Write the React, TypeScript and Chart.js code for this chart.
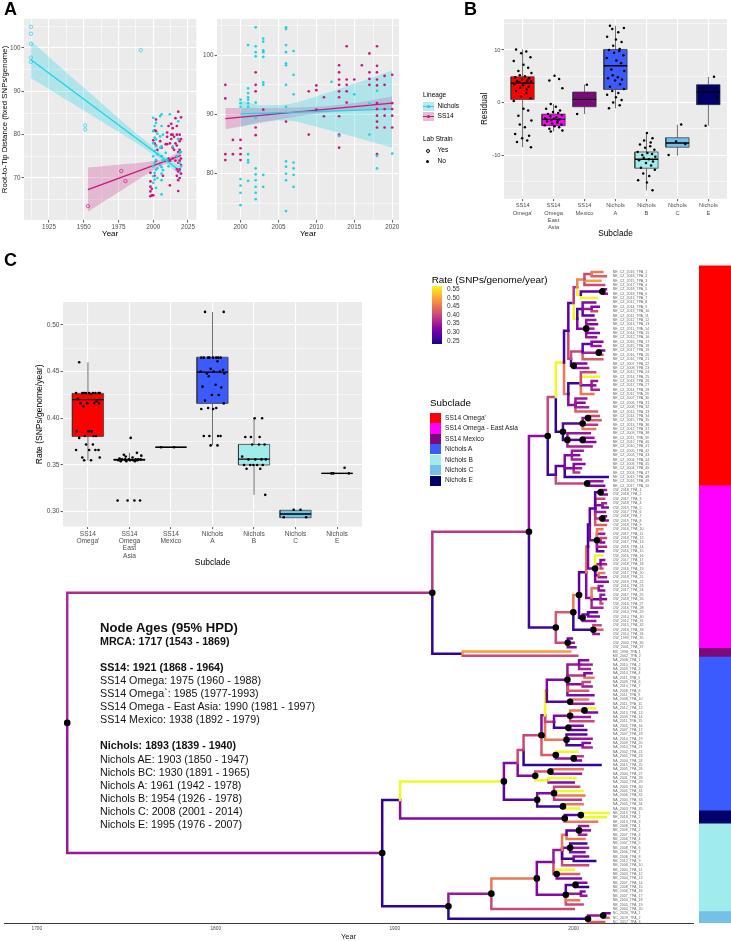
import React, { useEffect, useRef } from "react";
import { Chart, registerables } from "chart.js";
Chart.register(...registerables);

if (typeof document !== "undefined") document.body.style.margin = "0";

const FONT = "'Liberation Sans', Arial, Helvetica, sans-serif";
const NICHOLS = "#1dd3e6";
const SS14 = "#c8177f";

// ---------------- Panel A (root-to-tip) ----------------
const yearTicksA = [1925, 1950, 1975, 2000, 2025];
const yearMinorA = [1912.5, 1937.5, 1962.5, 1987.5, 2012.5];
const distTicksA = [70, 80, 90, 100];
const distMinorA = [65, 75, 85, 95, 105];

const nicholsLabA = [[1912, 104.9], [1912, 103.3], [1912, 101.0], [1912, 97.8], [1912, 96.8], [1951, 82.1], [1951, 81.2], [1991, 99.5]];
const ss14LabA = [[1953, 63.5], [1977, 71.6], [1980, 69.3]];
const nicholsFieldA = [[2000, 83.9], [2000, 80.8], [2000, 78.0], [2000, 75.0], [2000, 72.7], [2000, 70.4], [2000, 68.9], [2001, 82.0], [2001, 79.3], [2001, 76.2], [2001, 73.5], [2001, 71.2], [2001, 69.6], [2002, 82.7], [2002, 78.9], [2002, 77.3], [2002, 74.2], [2002, 71.9], [2002, 67.7], [2003, 80.2], [2003, 75.5], [2003, 72.2], [2003, 70.0], [2005, 84.3], [2005, 79.6], [2005, 77.0], [2005, 73.0], [2006, 84.7], [2006, 82.0], [2006, 77.3], [2006, 75.0], [2006, 72.5], [2006, 71.0], [2006, 69.5], [2006, 66.2], [2007, 80.0], [2007, 74.0], [2007, 71.8], [2009, 75.8], [2010, 74.2], [2011, 72.7], [2012, 84.7], [2014, 77.3], [2017, 75.0], [2018, 83.1], [2018, 78.9], [2019, 75.8], [2019, 73.5], [2020, 72.7], [2020, 76.0]];
const ss14FieldA = [[1998, 71.2], [1998, 69.2], [1998, 68.0], [1998, 66.9], [1998, 65.8], [1999, 67.5], [1999, 66.0], [2000, 78.7], [2000, 66.0], [2001, 81.0], [2001, 78.0], [2001, 70.5], [2002, 83.5], [2002, 80.8], [2002, 77.5], [2002, 74.0], [2003, 76.5], [2005, 78.5], [2006, 77.0], [2007, 70.5], [2009, 77.8], [2010, 77.8], [2010, 79.5], [2010, 80.5], [2011, 74.5], [2011, 82.0], [2012, 68.3], [2012, 74.0], [2012, 78.0], [2013, 79.0], [2013, 80.0], [2013, 82.5], [2014, 74.5], [2014, 77.0], [2014, 80.0], [2014, 81.5], [2015, 76.5], [2015, 79.5], [2016, 78.0], [2016, 83.8], [2016, 74.0], [2017, 70.5], [2017, 72.0], [2017, 75.0], [2017, 77.5], [2017, 80.0], [2017, 82.0], [2018, 67.0], [2018, 69.5], [2018, 71.5], [2018, 73.5], [2018, 76.0], [2018, 79.0], [2018, 85.3], [2019, 70.0], [2019, 72.0], [2019, 74.0], [2019, 76.5], [2019, 78.5], [2019, 80.0], [2020, 71.0], [2020, 73.0], [2020, 74.5], [2020, 79.0], [2020, 84.0]];
const nicholsFitA = [[1912, 97.3], [2020, 71.5]];
const ss14FitA = [[1953, 67.3], [2020, 75.2]];
const nicholsBandYearsA = [1912, 1930, 1950, 1975, 1990, 2006, 2020];
const nicholsBandLoA = [93.0, 89.49, 85.58, 80.64, 77.59, 74.04, 70.48];
const nicholsBandHiA = [101.6, 96.51, 90.86, 83.86, 79.75, 75.64, 72.52];
const ss14BandYearsA = [1953, 1965, 1980, 1995, 2010, 2020];
const ss14BandLoA = [62.2, 64.67, 67.75, 70.79, 73.42, 74.13];
const ss14BandHiA = [72.4, 72.75, 73.21, 73.71, 74.62, 76.27];

const yearTicksR = [2000, 2005, 2010, 2015, 2020];
const yearMinorR = [1997.5, 2002.5, 2007.5, 2012.5, 2017.5];
const distTicksR = [80, 90, 100];
const distMinorR = [75, 85, 95, 105];
const nicholsR = [[2000, 92.5], [2000, 91.9], [2000, 91.3], [2000, 79.1], [2000, 78.0], [2000, 76.8], [2000, 74.7], [2001, 101.7], [2001, 94.4], [2001, 93.6], [2001, 92.9], [2001, 92.5], [2001, 91.9], [2001, 91.3], [2001, 83.3], [2001, 82.3], [2001, 81.9], [2001, 78.8], [2002, 104.7], [2002, 101.5], [2002, 100.5], [2002, 99.8], [2002, 92.0], [2002, 89.4], [2002, 80.9], [2002, 79.9], [2002, 78.9], [2002, 77.8], [2002, 76.8], [2002, 75.7], [2003, 102.8], [2003, 102.3], [2003, 100.8], [2003, 100.5], [2003, 99.7], [2003, 95.4], [2003, 95.0], [2003, 79.8], [2003, 77.8], [2006, 104.7], [2006, 104.4], [2006, 101.7], [2006, 100.5], [2006, 98.6], [2006, 98.3], [2006, 95.0], [2006, 91.3], [2006, 82.1], [2006, 81.2], [2006, 80.0], [2006, 78.9], [2006, 73.7], [2007, 100.7], [2007, 96.7], [2007, 93.4], [2007, 81.9], [2007, 80.9], [2007, 79.8], [2007, 77.8], [2012, 95.5], [2013, 86.4], [2015, 93.4], [2017, 91.8], [2017, 86.6], [2018, 94.0], [2018, 83.0], [2018, 80.9], [2020, 83.4]];
const ss14R = [[1998, 95.0], [1998, 92.7], [1998, 83.3], [1998, 82.3], [1999, 85.7], [1999, 83.3], [2000, 85.7], [2000, 84.3], [2000, 83.3], [2000, 82.3], [2002, 97.1], [2002, 95.0], [2002, 93.9], [2002, 87.8], [2002, 86.5], [2003, 90.8], [2006, 88.8], [2009, 93.9], [2009, 86.6], [2010, 94.9], [2010, 94.1], [2010, 90.8], [2011, 92.9], [2011, 89.7], [2013, 98.3], [2013, 97.1], [2013, 95.9], [2013, 95.0], [2013, 93.9], [2013, 92.9], [2013, 89.7], [2013, 86.6], [2013, 86.4], [2013, 84.4], [2014, 101.5], [2014, 95.9], [2014, 95.0], [2014, 93.9], [2014, 92.0], [2015, 95.9], [2016, 98.3], [2017, 100.3], [2017, 97.1], [2017, 96.0], [2017, 95.0], [2018, 101.5], [2018, 98.2], [2018, 97.1], [2018, 95.9], [2018, 94.9], [2018, 91.9], [2018, 90.9], [2018, 89.8], [2018, 88.8], [2018, 87.8], [2018, 83.3], [2019, 96.5], [2019, 95.0], [2019, 90.9], [2019, 89.8], [2019, 87.8], [2020, 96.7], [2020, 91.9], [2020, 90.9], [2020, 89.8], [2020, 87.8]];
const nicholsFitR = [[2000, 90.1], [2020, 90.9]];
const ss14FitR = [[1998, 89.3], [2020, 91.9]];
const nicholsBandYearsR = [2000, 2003, 2006, 2010, 2014, 2017, 2020];
const nicholsBandLoR = [87.89, 88.87, 88.99, 87.94, 86.57, 85.49, 84.4];
const nicholsBandHiR = [92.31, 91.57, 91.69, 93.06, 94.75, 96.07, 97.4];
const ss14BandYearsR = [1998, 2002, 2006, 2010, 2014, 2017, 2020];
const ss14BandLoR = [87.5, 88.44, 89.35, 90.16, 90.63, 90.75, 90.79];
const ss14BandHiR = [91.1, 91.1, 91.13, 91.28, 91.75, 92.33, 93.01];

// ---------------- Subclades ----------------
const subclades = ["SS14 Omega'", "SS14 Omega East Asia", "SS14 Mexico", "Nichols A", "Nichols B", "Nichols C", "Nichols E"];
const subcladeTickLines = [["SS14", "Omega'"], ["SS14", "Omega", "East", "Asia"], ["SS14", "Mexico"], ["Nichols", "A"], ["Nichols", "B"], ["Nichols", "C"], ["Nichols", "E"]];
const subcladeColors = ["#ff0000", "#ff00ff", "#7d0a7d", "#3b5bff", "#a0ecec", "#74c0e8", "#00006b"];
const subcladeLegend = ["SS14 Omega'", "SS14 Omega - East Asia", "SS14 Mexico", "Nichols A", "Nichols B", "Nichols C", "Nichols E"];

// ---------------- Panel B (residuals) ----------------
const residTicks = [-10, 0, 10];
const residMinor = [-15, -5, 5, 15];
const residQ1 = [0.6, -4.4, -0.8, 2.5, -12.5, -8.5, -0.4];
const residMed = [3.7, -3.2, 0.6, 7.0, -10.8, -7.7, 2.0];
const residQ3 = [4.9, -2.2, 2.0, 10.1, -9.4, -6.7, 3.4];
const residLo = [-8.5, -5.5, -2.2, -1.1, -16.7, -10.1, -4.4];
const residHi = [10.1, -0.3, 3.4, 14.6, -5.8, -4.2, 4.9];
const residOmegaPrime = [10.1, 9.7, 9.4, 8.6, 7.9, 7.2, 6.6, 6.0, 5.6, 5.2, 5.0, 4.8, 4.6, 4.4, 4.2, 4.1, 4.0, 3.9, 3.7, 3.5, 3.3, 3.0, 2.8, 2.5, 2.2, 1.8, 1.2, 0.8, 0.3, -1.2, -1.5, -2.5, -3.4, -4.2, -4.7, -6.0, -6.3, -6.8, -7.2, -7.5, -8.5];
const residEastAsia = [5.1, 4.5, 4.2, 2.7, -0.3, -0.8, -1.2, -1.5, -1.8, -2.0, -2.2, -2.4, -2.6, -2.8, -3.0, -3.1, -3.2, -3.3, -3.5, -3.6, -3.8, -4.0, -4.2, -4.3, -4.5, -4.7, -5.0, -5.3, -5.5];
const residMexico = [3.4, -2.2];
const residNicholsA = [14.6, 14.2, 14.0, 13.4, 12.5, 12.0, 11.5, 10.8, 10.2, 10.0, 9.8, 9.5, 9.0, 8.5, 8.0, 7.5, 6.3, 6.0, 5.2, 4.8, 4.6, 4.4, 4.2, 3.5, 3.0, 2.6, 2.2, 1.8, 1.5, 1.0, 0.5, 0.0, -0.5, -1.1];
const residNicholsB = [-5.8, -6.8, -7.2, -7.6, -8.0, -8.3, -8.6, -9.0, -9.4, -9.6, -9.8, -10.0, -10.3, -10.5, -10.8, -11.0, -11.2, -11.5, -12.0, -12.4, -12.8, -13.5, -14.0, -14.8, -15.2, -16.7];
const residNicholsC = [-4.2, -7.4, -7.9, -10.0];
const residNicholsE = [4.9, 2.8, 1.0, -4.4];

// ---------------- Panel C inset (rates) ----------------
const rateTicks = [0.3, 0.35, 0.4, 0.45, 0.5];
const rateMinor = [0.325, 0.375, 0.425, 0.475];
const rateQ1 = [0.3806, 0.3552, 0.369, 0.416, 0.35, 0.2935, 0.3408];
const rateMed = [0.42, 0.3556, 0.369, 0.4495, 0.3563, 0.2975, 0.341];
const rateQ3 = [0.4267, 0.3562, 0.369, 0.4655, 0.372, 0.3015, 0.3412];
const rateLo = [0.355, 0.354, 0.369, 0.371, 0.318, 0.2935, 0.341];
const rateHi = [0.46, 0.363, 0.369, 0.514, 0.4, 0.3017, 0.341];
const rateOmegaPrime = [0.46, 0.427, 0.427, 0.427, 0.427, 0.427, 0.427, 0.427, 0.427, 0.427, 0.426, 0.421, 0.418, 0.416, 0.416, 0.416, 0.416, 0.413, 0.386, 0.386, 0.386, 0.381, 0.381, 0.381, 0.379, 0.372, 0.372, 0.366, 0.366, 0.366, 0.366, 0.358, 0.358, 0.355, 0.355];
const rateEastAsia = [0.379, 0.363, 0.361, 0.36, 0.359, 0.358, 0.357, 0.356, 0.356, 0.356, 0.356, 0.356, 0.356, 0.355, 0.355, 0.355, 0.355, 0.354, 0.354, 0.354, 0.312, 0.312, 0.312, 0.312];
const rateMexico = [0.369, 0.369];
const rateNicholsA = [0.514, 0.514, 0.465, 0.465, 0.465, 0.465, 0.465, 0.465, 0.465, 0.465, 0.461, 0.453, 0.452, 0.45, 0.45, 0.45, 0.448, 0.448, 0.445, 0.436, 0.434, 0.433, 0.425, 0.425, 0.419, 0.416, 0.411, 0.411, 0.41, 0.41, 0.381, 0.381, 0.381, 0.381, 0.371, 0.371];
const rateNicholsB = [0.4, 0.4, 0.38, 0.38, 0.38, 0.372, 0.372, 0.372, 0.359, 0.356, 0.356, 0.356, 0.356, 0.35, 0.35, 0.35, 0.35, 0.35, 0.346, 0.346, 0.318];
const rateNicholsC = [0.302, 0.302, 0.294, 0.294];
const rateNicholsE = [0.347, 0.341, 0.341, 0.341];

const jitterPattern = [-0.7, 0.4, -0.15, 0.85, -0.95, 0.1, 0.6, -0.45, 0.95, -0.3, 0.25, -0.8, 0.7, -0.05, 0.5, -0.6, 0.9, -0.35, 0.3, -0.9, 0.05, 0.65, -0.25, 0.45];

// ---------------- Tree (Panel C) ----------------
// internal node: [year, rate of branch leading to it, dot, children]; tip: [year, rate]
const omegaPrimeTree = [1985.5, 0.34, 1, [
  [1990, 0.40, 0, [
    [1994.6, 0.55, 0, [
      [1997, 0.28, 0, [
        [2000, 0.30, 0, [
          [2002, 0.38, 0, [
            [2006, 0.46, 0, [[2010, 0.40, 0, [[2016, 0.45], [2018, 0.42]]], [2015, 0.48], [2017, 0.40]]],
            [2004, 0.55, 0, [[2016, 0.30, 1, [[2018, 0.33], [2018.5, 0.35]]], [2013, 0.55]]],
          ]],
          [2002, 0.55, 0, [
            [2005, 0.28, 0, [[2012, 0.33], [2010, 0.35, 0, [[2014, 0.33], [2013, 0.40]]], [2011, 0.30]]],
            [2007, 0.33, 1, [[2012, 0.35], [2013, 0.33], [2011, 0.36], [2014, 0.33], [2012.5, 0.35]]],
          ]],
        ]],
        [1998.5, 0.40, 0, [
          [2005, 0.40, 0, [[2010, 0.30, 0, [[2016, 0.33], [2015, 0.35]]], [2014, 0.36, 1, [[2017, 0.33], [2016, 0.40]]], [2016, 0.42]]],
          [2000, 0.30, 1, [[2007, 0.33], [2008, 0.35]]],
        ]],
      ]],
      [1997, 0.45, 0, [
        [2004, 0.28, 0, [[2012, 0.40], [2014, 0.55], [2010, 0.33, 0, [[2013, 0.35], [2012, 0.33], [2014, 0.36]]], [2011, 0.45]]],
        [2001, 0.33, 0, [[2007, 0.35], [2006, 0.33], [2008, 0.36], [2013, 0.42]]],
      ]],
    ]],
    [1994, 0.27, 1, [
      [2005, 0.30, 1, [[2008, 0.35, 1, [[2014, 0.40], [2015, 0.42]]], [2013, 0.38], [2012, 0.45]]],
      [1996.5, 0.27, 1, [[2009, 0.35], [2005, 0.30, 1, [[2011, 0.35], [2012, 0.33]]], [2010, 0.36]]],
    ]],
  ]],
  [1990, 0.28, 0, [
    [1995, 0.30, 0, [[1999, 0.33, 0, [[2005, 0.35], [2003, 0.33], [2004, 0.36]]], [2000, 0.33, 0, [[2006, 0.33], [2004, 0.35], [2003, 0.38]]], [2019, 0.27]]],
    [2007.5, 0.40, 1, [[2016, 0.35], [2017, 0.33]]],
  ]],
]];
const eastAsiaTree = [1990, 0.28, 1, [
  [1999.8, 0.42, 1, [
    [2003, 0.45, 1, [
      [2007, 0.30, 0, [
        [2008, 0.45, 0, [
          [2009, 0.28, 0, [
            [2012, 0.30, 0, [[2015, 0.30, 1, [[2018, 0.35], [2018.5, 0.33]]], [2017, 0.40], [2016, 0.33, 0, [[2018, 0.36], [2019, 0.33]]], [2017.5, 0.35], [2016, 0.38, 1, [[2018, 0.33], [2019, 0.35]]], [2018, 0.42]]],
            [2013, 0.33, 1, [[2016, 0.45], [2017, 0.35], [2015, 0.33, 0, [[2018, 0.40], [2017, 0.33]]], [2018, 0.36], [2016.5, 0.30]]],
          ]],
          [2012, 0.33, 1, [[2016, 0.55], [2015, 0.35, 0, [[2017, 0.33], [2018, 0.36], [2016, 0.40]]], [2014, 0.30, 0, [[2017, 0.45], [2018, 0.35]]], [2019, 0.33]]],
        ]],
        [2010, 0.33, 0, [[2014, 0.45, 0, [[2016, 0.35], [2017, 0.33]]], [2015, 0.30, 0, [[2017, 0.35], [2018, 0.33], [2016, 0.40]]], [2016, 0.36]]],
      ]],
      [2005, 0.30, 1, [[2008, 0.33, 0, [[2013, 0.30], [2014, 0.33]]], [2012, 0.35]]],
    ]],
    [2011, 0.28, 1, [[2015, 0.40], [2016, 0.42], [2014, 0.35]]],
  ]],
  [1996.7, 0.40, 1, [[1999, 0.33], [2000, 0.35], [2001, 0.33]]],
]];
const mexicoTree = [1938, 0.27, 0, [[1998, 0.48], [2002, 0.40]]];
const nicholsATree = [1961, 0.55, 1, [
  [1968.7, 0.33, 0, [
    [1972, 0.40, 0, [
      [1982, 0.40, 1, [
        [1984, 0.33, 0, [
          [1985, 0.55, 0, [
            [1996.5, 0.33, 1, [[2003, 0.35, 0, [[2008, 0.33], [2010, 0.35], [2009, 0.36]]], [2006, 0.38, 0, [[2010, 0.33], [2011, 0.45]]], [2005, 0.33, 0, [[2009, 0.40], [2010, 0.35]]], [2008, 0.42], [2011, 0.33]]],
            [1998, 0.30, 1, [[2008, 0.45], [2011, 0.35]]],
          ]],
          [1989, 0.40, 0, [
            [1998, 0.33, 1, [[2006, 0.45, 1, [[2012, 0.55], [2013, 0.33]]], [2009, 0.35], [2011, 0.40]]],
            [1997, 0.28, 1, [[2005, 0.33], [2007, 0.30]]],
          ]],
          [1996, 0.45, 1, [[2007, 0.30], [2010, 0.35], [2005, 0.28, 0, [[2009, 0.33], [2010, 0.36]]]]],
        ]],
        [1990, 0.42, 1, [[2002, 0.55], [2000, 0.35, 1, [[2005, 0.38], [2004, 0.33]]]]],
      ]],
      [2015, 0.27],
    ]],
    [1978.5, 0.33, 1, [[1987, 0.42, 1, [[2005, 0.45], [2004, 0.35]]], [1986, 0.55, 0, [[2001, 0.55], [2000, 0.33]]]]],
  ]],
  [1979.6, 0.30, 1, [[1989, 0.33, 1, [[2003, 0.40], [2005, 0.55], [2006, 0.45], [2004, 0.38]]], [1994, 0.28, 1, [[2005, 0.45], [2003, 0.55]]]]],
]];
const nicholsETree = [1995, 0.33, 1, [[2004, 0.30, 1, [[2019.5, 0.55], [2018, 0.55]]], [2013, 0.45]]];
const nicholsBTree = [1954, 0.35, 1, [
  [1979.4, 0.45, 1, [
    [1988.7, 0.33, 0, [
      [1993.5, 0.35, 0, [[1996, 0.45, 0, [[2003, 0.30, 1, [[2008, 0.35], [2009, 0.33], [2007, 0.36]]], [2006, 0.45]]], [1998, 0.33, 1, [[2007, 0.28], [2008, 0.35], [2006, 0.33]]], [2000, 0.28, 0, [[2008, 0.33], [2012, 0.27]]], [2008, 0.40]]],
      [1990.5, 0.40, 1, [[2000, 0.55], [2003, 0.42], [2004, 0.33]]],
    ]],
    [1995.6, 0.33, 1, [[2001, 0.30, 1, [[2007, 0.33], [2008, 0.27]]], [2004, 0.35, 0, [[2006, 0.33], [2007, 0.35]]], [2003, 0.45], [2005, 0.40]]],
  ]],
  [2000, 0.40],
]];
const nicholsCTree = [2008, 0.27, 1, [[2016.5, 0.35, 1, [[2020, 0.33], [2019.5, 0.45]]], [2017, 0.42]]];
const omegaTree = [1975, 0.38, 1, [omegaPrimeTree, eastAsiaTree]];
const ss14Tree = [1921, 0.37, 1, [omegaTree, mexicoTree]];
const nicholsAETree = [1903, 0.27, 0, [nicholsATree, nicholsETree]];
const nicholsBCTree = [1930, 0.27, 1, [nicholsBTree, nicholsCTree]];
const nicholsTree = [1893, 0.35, 1, [nicholsAETree, nicholsBCTree]];
const mrcaTree = [1717, 0.37, 1, [ss14Tree, nicholsTree]];

const barClades = [omegaPrimeTree, eastAsiaTree, mexicoTree, nicholsATree, nicholsETree, nicholsBTree, nicholsCTree];
const barColors = ["#ff0000", "#ff00ff", "#7d0a7d", "#3b5bff", "#00006b", "#a0ecec", "#74c0e8"];
const tipPrefix = ["NE_CZ_", "CW_", "MX_", "NA_", "NE_", "NB_", "NC_"];
const treeYearTicks = [1700, 1800, 1900, 2000];
const rateLegendTicks = [0.55, 0.5, 0.45, 0.4, 0.35, 0.3, 0.25];

const nodeAgeLines = [
  ["Node Ages (95% HPD)", 2],
  ["MRCA: 1717 (1543 - 1869)", 1],
  ["", 0],
  ["SS14: 1921 (1868 - 1964)", 1],
  ["SS14 Omega: 1975 (1960 - 1988)", 0],
  ["SS14 Omega`: 1985 (1977-1993)", 0],
  ["SS14 Omega - East Asia: 1990 (1981 - 1997)", 0],
  ["SS14 Mexico: 1938 (1892 - 1979)", 0],
  ["", 0],
  ["Nichols: 1893 (1839 - 1940)", 1],
  ["Nichols AE: 1903 (1850 - 1947)", 0],
  ["Nichols BC: 1930 (1891 - 1965)", 0],
  ["Nichols A: 1961 (1942 - 1978)", 0],
  ["Nichols B: 1954 (1926 - 1978)", 0],
  ["Nichols C: 2008 (2001 - 2014)", 0],
  ["Nichols E: 1995 (1976 - 2007)", 0],
];

// ---------------- helpers ----------------
const plasma = ["#0d0887", "#41049d", "#6a00a8", "#8f0da4", "#b12a90", "#cc4778", "#e16462", "#f2844b", "#fca636", "#fcce25", "#f0f921"];
const hex = (h: string) => [parseInt(h.slice(1, 3), 16), parseInt(h.slice(3, 5), 16), parseInt(h.slice(5, 7), 16)];
function rateColor(r: number) {
  const t = Math.min(1, Math.max(0, (r - 0.25) / 0.3)) * (plasma.length - 1);
  const i = Math.min(plasma.length - 2, Math.floor(t));
  const f = t - i;
  const a = hex(plasma[i]);
  const b = hex(plasma[i + 1]);
  return `rgb(${Math.round(a[0] + (b[0] - a[0]) * f)},${Math.round(a[1] + (b[1] - a[1]) * f)},${Math.round(a[2] + (b[2] - a[2]) * f)})`;
}
const pts = (arr: number[][]) => arr.map(([x, y]) => ({ x, y }));
const zipXY = (xs: number[], ys: number[]) => xs.map((x, i) => ({ x, y: ys[i] }));

const ggPanel = {
  id: "ggPanel",
  beforeDraw(chart: any) {
    const a = chart.chartArea;
    const ctx = chart.ctx;
    ctx.save();
    ctx.fillStyle = "#ebebeb";
    ctx.fillRect(a.left, a.top, a.right - a.left, a.bottom - a.top);
    ctx.restore();
  },
};

function ggAxis(o: any) {
  const majors: number[] = o.majors;
  const minors: number[] = o.minors || [];
  const isMajor = (v: number) => majors.indexOf(v) >= 0;
  return {
    type: "linear",
    min: o.min,
    max: o.max,
    afterBuildTicks: (s: any) => {
      s.ticks = [...majors, ...minors].sort((a, b) => a - b).map((v) => ({ value: v }));
    },
    afterFit: (s: any) => {
      if (o.horizontal) s.height = o.fit;
      else s.width = o.fit;
    },
    ticks: {
      autoSkip: false,
      maxRotation: 0,
      minRotation: 0,
      padding: 1,
      color: "#4d4d4d",
      font: { family: FONT, size: o.fs, lineHeight: o.lh || 1.2 },
      callback: (v: number) => (isMajor(v) ? o.fmt(v) : ""),
    },
    grid: {
      display: true,
      drawTicks: true,
      tickLength: 2.5,
      color: "#ffffff",
      lineWidth: (c: any) => (c.tick && isMajor(c.tick.value) ? 1.1 : 0.55),
      tickColor: (c: any) => (c.tick && isMajor(c.tick.value) ? "#333333" : "rgba(0,0,0,0)"),
      tickWidth: 0.8,
    },
    border: { display: false },
    title: o.title
      ? { display: true, text: o.title, color: "#000", font: { family: FONT, size: o.tfs }, padding: 0 }
      : { display: false },
  };
}

function baseOptions(padTop: number, padRight: number) {
  return {
    responsive: false,
    animation: false,
    events: [],
    devicePixelRatio: 1,
    layout: { padding: { top: padTop, right: padRight, left: 0, bottom: 0 } },
    plugins: { legend: { display: false }, tooltip: { enabled: false } },
  };
}

function scatterA(o: any) {
  const ds: any[] = [];
  ds.push({ data: pts(o.nField), pointRadius: 1.35, pointBackgroundColor: NICHOLS, pointBorderWidth: 0, order: 0 });
  ds.push({ data: pts(o.sField), pointRadius: 1.35, pointBackgroundColor: SS14, pointBorderWidth: 0, order: 0 });
  if (o.nLab) ds.push({ data: pts(o.nLab), pointRadius: 1.7, pointBackgroundColor: "rgba(0,0,0,0)", pointBorderColor: NICHOLS, pointBorderWidth: 0.7, order: 0 });
  if (o.sLab) ds.push({ data: pts(o.sLab), pointRadius: 1.7, pointBackgroundColor: "rgba(0,0,0,0)", pointBorderColor: SS14, pointBorderWidth: 0.7, order: 0 });
  ds.push({ data: pts(o.nFit), showLine: true, borderColor: NICHOLS, borderWidth: 1.3, pointRadius: 0, order: 1 });
  ds.push({ data: pts(o.sFit), showLine: true, borderColor: SS14, borderWidth: 1.3, pointRadius: 0, order: 1 });
  const bandDs = (years: number[], lo: number[], hi: number[], color: string) => {
    const idx = ds.length;
    ds.push({ data: zipXY(years, lo), showLine: true, borderWidth: 0, pointRadius: 0, cubicInterpolationMode: "monotone", order: 3 });
    ds.push({ data: zipXY(years, hi), showLine: true, borderWidth: 0, pointRadius: 0, cubicInterpolationMode: "monotone", fill: idx, backgroundColor: color, order: 3 });
  };
  bandDs(o.nBandX, o.nBandLo, o.nBandHi, "rgba(29,211,230,0.28)");
  bandDs(o.sBandX, o.sBandLo, o.sBandHi, "rgba(200,23,127,0.24)");
  return ds;
}

function boxDatasets(o: any) {
  const W = 0.375;
  const ds: any[] = [];
  o.points.forEach((vals: number[], i: number) => {
    ds.push({
      data: vals.map((v, k) => ({ x: i + 1 + jitterPattern[(k + i * 5) % jitterPattern.length] * o.jit, y: v })),
      pointRadius: o.pr,
      pointBackgroundColor: "#000",
      pointBorderWidth: 0,
      order: 0,
    });
  });
  for (let i = 0; i < o.q1.length; i++) {
    const x = i + 1;
    ds.push({ data: [{ x: x - W, y: o.med[i] }, { x: x + W, y: o.med[i] }], showLine: true, borderColor: "#000", borderWidth: 1.4, pointRadius: 0, order: 1 });
    ds.push({
      data: [{ x: x - W, y: o.q1[i] }, { x: x + W, y: o.q1[i] }, { x: x + W, y: o.q3[i] }, { x: x - W, y: o.q3[i] }, { x: x - W, y: o.q1[i] }],
      showLine: true, fill: "shape", backgroundColor: o.colors[i], borderColor: "#333", borderWidth: 0.7, pointRadius: 0, order: 2,
    });
    ds.push({ data: [{ x, y: o.lo[i] }, { x, y: o.q1[i] }], showLine: true, borderColor: "#333", borderWidth: 0.7, pointRadius: 0, order: 3 });
    ds.push({ data: [{ x, y: o.q3[i] }, { x, y: o.hi[i] }], showLine: true, borderColor: "#333", borderWidth: 0.7, pointRadius: 0, order: 3 });
  }
  return ds;
}

function layoutTree() {
  const tips: any[] = [];
  const branches: any[] = [];
  const dots: any[] = [];
  const cladeOf = new Map<any, number>();
  barClades.forEach((t, i) => cladeOf.set(t, i));
  const counts = barClades.map(() => 0);
  let counter = 0;
  const visit = (node: any[], clade: number): number => {
    const c = cladeOf.has(node) ? (cladeOf.get(node) as number) : clade;
    if (node.length === 2) {
      const y = counter++;
      counts[c] += 1;
      tips.push({ year: node[0], y, clade: c, label: `${tipPrefix[c]}${Math.floor(node[0])}_TPA_${counts[c]}` });
      return y;
    }
    const kids: any[] = node[3];
    const ys = kids.map((k) => visit(k, c));
    const y = (Math.min(...ys) + Math.max(...ys)) / 2;
    kids.forEach((k, j) => branches.push({ x0: node[0], x1: k[0], y0: y, y1: ys[j], rate: k[1] }));
    if (node[2]) dots.push({ x: node[0], y });
    return y;
  };
  visit(mrcaTree, -1);
  const ranges = barClades.map((_, i) => {
    const ys = tips.filter((t) => t.clade === i).map((t) => t.y);
    return [Math.min(...ys) - 0.5, Math.max(...ys) + 0.5];
  });
  return { tips, branches, dots, ranges };
}
const TREE = layoutTree();
const NT = TREE.tips.length;
// pixel layout of the tree canvas (top 255, chart height 668): first tip 13px below top, last tip 667px
const treeUnit = (667 - 13) / (NT - 1);
const treeYMin = -13 / treeUnit;
const treeYMax = treeYMin + 668 / treeUnit;
const treeXMin = 1700 - 33 / 1.8;
const treeXMax = 1700 + 660 / 1.8;
const tipLabelYear = 2021.8;

// ---------------- chart configs ----------------
function makeA1() {
  return {
    type: "scatter",
    data: {
      datasets: scatterA({
        nField: nicholsFieldA, sField: ss14FieldA, nLab: nicholsLabA, sLab: ss14LabA, nFit: nicholsFitA, sFit: ss14FitA,
        nBandX: nicholsBandYearsA, nBandLo: nicholsBandLoA, nBandHi: nicholsBandHiA,
        sBandX: ss14BandYearsA, sBandLo: ss14BandLoA, sBandHi: ss14BandHiA,
      }),
    },
    options: {
      ...baseOptions(7, 4),
      scales: {
        x: ggAxis({ min: 1907, max: 2031, majors: yearTicksA, minors: yearMinorA, fmt: String, fs: 6.3, horizontal: true, fit: 19, title: "Year", tfs: 8 }),
        y: ggAxis({ min: 60.3, max: 106.7, majors: distTicksA, minors: distMinorA, fmt: String, fs: 6.3, fit: 24, title: "Root-to-Tip Distance (fixed SNPs/genome)", tfs: 7.8 }),
      },
    },
    plugins: [ggPanel],
  };
}
function makeA2() {
  return {
    type: "scatter",
    data: {
      datasets: scatterA({
        nField: nicholsR, sField: ss14R, nFit: nicholsFitR, sFit: ss14FitR,
        nBandX: nicholsBandYearsR, nBandLo: nicholsBandLoR, nBandHi: nicholsBandHiR,
        sBandX: ss14BandYearsR, sBandLo: ss14BandLoR, sBandHi: ss14BandHiR,
      }),
    },
    options: {
      ...baseOptions(7, 4),
      scales: {
        x: ggAxis({ min: 1996.9, max: 2020.9, majors: yearTicksR, minors: yearMinorR, fmt: String, fs: 6.3, horizontal: true, fit: 19, title: "Year", tfs: 8 }),
        y: ggAxis({ min: 72.2, max: 106.1, majors: distTicksR, minors: distMinorR, fmt: String, fs: 6.3, fit: 17 }),
      },
    },
    plugins: [ggPanel],
  };
}
function makeB() {
  return {
    type: "scatter",
    data: {
      datasets: boxDatasets({
        points: [residOmegaPrime, residEastAsia, residMexico, residNicholsA, residNicholsB, residNicholsC, residNicholsE],
        q1: residQ1, med: residMed, q3: residQ3, lo: residLo, hi: residHi, colors: subcladeColors, jit: 0.3, pr: 1.25,
      }),
    },
    options: {
      ...baseOptions(7, 1),
      scales: {
        x: ggAxis({ min: 0.4, max: 7.6, majors: [1, 2, 3, 4, 5, 6, 7], minors: [], fmt: (v: number) => subcladeTickLines[v - 1], fs: 5.7, lh: 1.28, horizontal: true, fit: 40.3, title: "Subclade", tfs: 8.3 }),
        y: ggAxis({ min: -18.3, max: 15.9, majors: residTicks, minors: residMinor, fmt: String, fs: 5.7, fit: 24, title: "Residual", tfs: 8.3 }),
      },
    },
    plugins: [ggPanel],
  };
}
function makeC() {
  return {
    type: "scatter",
    data: {
      datasets: boxDatasets({
        points: [rateOmegaPrime, rateEastAsia, rateMexico, rateNicholsA, rateNicholsB, rateNicholsC, rateNicholsE],
        q1: rateQ1, med: rateMed, q3: rateQ3, lo: rateLo, hi: rateHi, colors: subcladeColors, jit: 0.3, pr: 1.3,
      }),
    },
    options: {
      ...baseOptions(7, 5),
      scales: {
        x: ggAxis({ min: 0.4, max: 7.6, majors: [1, 2, 3, 4, 5, 6, 7], minors: [], fmt: (v: number) => subcladeTickLines[v - 1], fs: 6.6, lh: 1.12, horizontal: true, fit: 41.4, title: "Subclade", tfs: 8.5 }),
        y: ggAxis({ min: 0.284, max: 0.5246, majors: rateTicks, minors: rateMinor, fmt: (v: number) => v.toFixed(2), fs: 6.6, fit: 28, title: "Rate (SNPs/genome/year)", tfs: 8.5 }),
      },
    },
    plugins: [ggPanel],
  };
}

const tipLabelPlugin = {
  id: "tipLabels",
  afterDatasetsDraw(chart: any) {
    const { ctx } = chart;
    const xs = chart.scales.x;
    const ys = chart.scales.y;
    ctx.save();
    ctx.fillStyle = "#666666";
    ctx.font = `3.6px ${FONT}`;
    ctx.textBaseline = "middle";
    const px = xs.getPixelForValue(tipLabelYear);
    TREE.tips.forEach((t: any) => ctx.fillText(t.label, px, ys.getPixelForValue(t.y)));
    ctx.restore();
  },
};

function makeTree() {
  const ds: any[] = [];
  ds.push({ data: TREE.dots.map((d: any) => ({ x: d.x, y: d.y })), pointRadius: 3.3, pointBackgroundColor: "#000", pointBorderWidth: 0, order: 0, clip: false });
  TREE.branches.forEach((b: any) => {
    ds.push({
      data: [{ x: b.x0, y: b.y0 }, { x: b.x0, y: b.y1 }, { x: b.x1, y: b.y1 }],
      showLine: true, borderColor: rateColor(b.rate), borderWidth: 2.5, pointRadius: 0, order: 1, clip: false,
      borderCapStyle: "square", borderJoinStyle: "miter",
    });
  });
  return {
    type: "scatter",
    data: { datasets: ds },
    options: {
      ...baseOptions(0, 38),
      scales: {
        x: {
          type: "linear", min: treeXMin, max: treeXMax,
          afterBuildTicks: (s: any) => { s.ticks = treeYearTicks.map((v) => ({ value: v })); },
          afterFit: (s: any) => { s.height = 18; },
          grid: { display: false, drawTicks: false },
          border: { display: true, color: "#3a3a3a", width: 1 },
          ticks: { autoSkip: false, maxRotation: 0, padding: 3, color: "#4d4d4d", font: { family: FONT, size: 4.8 }, callback: (v: number) => String(v) },
          title: { display: true, text: "Year", color: "#222", font: { family: FONT, size: 7.5 }, padding: 0 },
        },
        y: { type: "linear", display: false, min: treeYMin, max: treeYMax, reverse: true },
      },
    },
    plugins: [tipLabelPlugin],
  };
}
function makeBar() {
  return {
    type: "bar",
    data: {
      labels: ["Subclade"],
      datasets: TREE.ranges.map((r: number[], i: number) => ({ data: [[r[0], r[1]]], backgroundColor: barColors[i], borderWidth: 0, barPercentage: 1, categoryPercentage: 1, grouped: false })),
    },
    options: {
      ...baseOptions(0, 0),
      scales: {
        x: { display: false },
        y: { type: "linear", display: false, min: treeYMin, max: treeYMax, reverse: true },
      },
    },
  };
}

// ---------------- React ----------------
function ChartCanvas({ left, top, width, height, make }: any) {
  const ref = useRef<HTMLCanvasElement | null>(null);
  useEffect(() => {
    const c = new Chart(ref.current as HTMLCanvasElement, make());
    return () => c.destroy();
  }, []);
  return <canvas ref={ref} width={width} height={height} style={{ position: "absolute", left, top, width, height }} />;
}

function T({ x, y, fs, bold, color = "#000", children }: any) {
  return (
    <div style={{ position: "absolute", left: x, top: y - fs * 0.5, fontSize: fs, lineHeight: `${fs}px`, fontWeight: bold ? "bold" : "normal", color, whiteSpace: "nowrap", fontFamily: FONT }}>
      {children}
    </div>
  );
}

function LineageKey({ y, color, band }: any) {
  return (
    <div style={{ position: "absolute", left: 423, top: y - 4.8, width: 11, height: 9.6, background: band }}>
      <div style={{ position: "absolute", left: 0, top: 4.3, width: 11, height: 1.1, background: color }} />
      <div style={{ position: "absolute", left: 4, top: 3.3, width: 3, height: 3, borderRadius: 2, background: color }} />
    </div>
  );
}

export default function App() {
  const gradient = `linear-gradient(to top, ${plasma.join(", ")})`;
  return (
    <div style={{ position: "relative", width: 731, height: 941, overflow: "hidden", background: "#fff", fontFamily: FONT }}>
      <ChartCanvas left={0} top={255} width={731} height={686} make={makeTree} />
      <ChartCanvas left={699} top={255} width={32} height={668} make={makeBar} />
      <ChartCanvas left={0} top={12} width={201} height={227} make={makeA1} />
      <ChartCanvas left={200} top={12} width={203} height={227} make={makeA2} />
      <ChartCanvas left={480} top={12} width={251} height={227.3} make={makeB} />
      <ChartCanvas left={35} top={295} width={332} height={273.4} make={makeC} />

      <T x={4} y={8.5} fs={18} bold>A</T>
      <T x={464} y={8.5} fs={18} bold>B</T>
      <T x={4} y={260} fs={18} bold>C</T>

      {/* Panel A legend */}
      <T x={423} y={95.7} fs={6.5}>Lineage</T>
      <LineageKey y={106.5} color={NICHOLS} band="#b9e9ee" />
      <LineageKey y={116.5} color={SS14} band="#e6bdd6" />
      <T x={437.5} y={106.5} fs={6.6}>Nichols</T>
      <T x={437.5} y={116.5} fs={6.6}>SS14</T>
      <T x={423} y={139} fs={6.5}>Lab Strain</T>
      <div style={{ position: "absolute", left: 426.2, top: 149.2, width: 2.2, height: 2.2, borderRadius: 2, border: "0.7px solid #000" }} />
      <div style={{ position: "absolute", left: 426.4, top: 159.6, width: 3, height: 3, borderRadius: 2, background: "#000" }} />
      <T x={437.5} y={150.7} fs={6.6}>Yes</T>
      <T x={437.5} y={161} fs={6.6}>No</T>

      {/* Tree legends */}
      <T x={431.7} y={280} fs={9.9}>Rate (SNPs/genome/year)</T>
      <div style={{ position: "absolute", left: 432, top: 286, width: 10, height: 58, background: gradient }} />
      {rateLegendTicks.map((v, i) => (
        <T key={v} x={447} y={289.3 + i * 8.6} fs={6.5} color="#333">{v.toFixed(2)}</T>
      ))}
      <T x={430} y={403} fs={9.8}>Subclade</T>
      {subcladeLegend.map((s, i) => (
        <React.Fragment key={s}>
          <div style={{ position: "absolute", left: 430, top: 418 - 5.1 + i * 10.45, width: 11, height: 10.2, background: subcladeColors[i] }} />
          <T x={445} y={418 + i * 10.45} fs={6.6} color="#222">{s}</T>
        </React.Fragment>
      ))}

      {/* Node ages */}
      {nodeAgeLines.map((l, i) => {
        const [txt, w] = l as [string, number];
        const y = i === 0 ? 627.7 : 641.5 + (i - 1) * 13.04;
        return txt ? (
          <T key={i} x={100} y={y} fs={w === 2 ? 13.1 : 10.7} bold={w > 0} color="#111">{txt}</T>
        ) : null;
      })}
    </div>
  );
}
